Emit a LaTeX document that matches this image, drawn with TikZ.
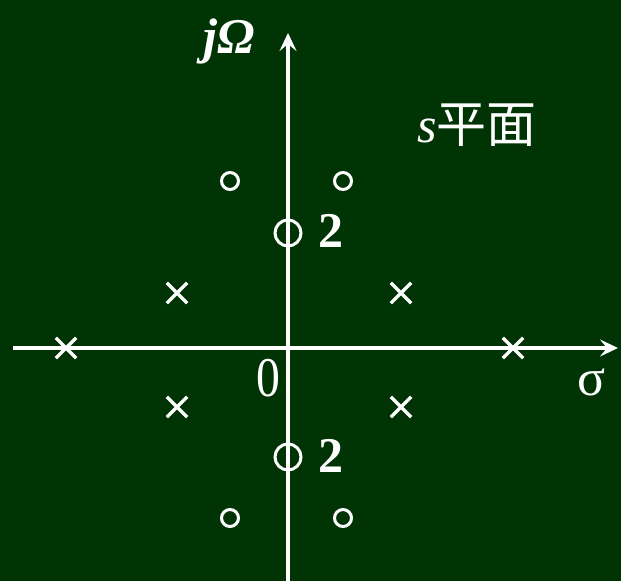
\documentclass[tikz,border=0pt]{standalone}
\usepackage{fontspec}
\setmainfont{Liberation Serif}
\newfontfamily\cjk{Noto Sans CJK SC}
\usetikzlibrary{arrows.meta,shapes.misc}
\definecolor{bgreen}{RGB}{1,52,4}
\tikzset{
  axis/.style={draw=white,line width=3.6pt,-{Stealth[length=18pt,width=17pt,inset=7pt]}},
  pole/.style={cross out,draw=white,line width=3.3pt,minimum size=17pt,inner sep=0pt},
  zero/.style={circle,draw=white,line width=3pt,minimum size=17pt,inner sep=0pt},
  dzero/.style={circle,draw=white,line width=3pt,minimum size=26pt,inner sep=0pt},
  lbl/.style={text=white,inner sep=0pt},
}
\begin{document}
\begin{tikzpicture}[x=1pt,y=-1pt]
\path[fill=bgreen,use as bounding box] (0,0) rectangle (621,581);
\coordinate (xl) at (13,348);
\coordinate (xr) at (618,348);
\coordinate (yb) at (288,581);
\coordinate (yt) at (288,33);
\draw[axis] (xl) -- (xr);
\draw[axis] (yb) -- (yt);
% poles
\node[pole] (p1) at (66,348) {};
\node[pole] (p2) at (513,348) {};
\node[pole] (p3) at (177,293) {};
\node[pole] (p4) at (401,293) {};
\node[pole] (p5) at (177,407) {};
\node[pole] (p6) at (401,407) {};
% zeros
\node[zero] (z1) at (230,181) {};
\node[zero] (z2) at (343,181) {};
\node[zero] (z3) at (230,518) {};
\node[zero] (z4) at (343,518) {};
\node[dzero] (z5) at (288,233) {};
\node[dzero] (z6) at (288,457) {};
\fill[white] (z5.center) circle (2.2pt);
\fill[white] (z6.center) circle (2.2pt);
% labels
\node[lbl,font=\fontsize{50}{50}\selectfont\bfseries] (n1) at (331,231) {2};
\node[lbl,font=\fontsize{50}{50}\selectfont\bfseries] (n2) at (331,456) {2};
\node[lbl,font=\fontsize{56}{56}\selectfont,xscale=0.85] (o) at (268,378) {0};
\node[lbl,font=\fontsize{52}{52}\selectfont] (sig) at (592,382) {σ};
\node[lbl,font=\fontsize{50}{50}\selectfont\itshape\bfseries] (jw) at (229,41) {jΩ};
\node[lbl,font=\fontsize{50}{50}\selectfont] (sp) at (477,125) {\textit{s}{\cjk 平面}};
\end{tikzpicture}
\end{document}
